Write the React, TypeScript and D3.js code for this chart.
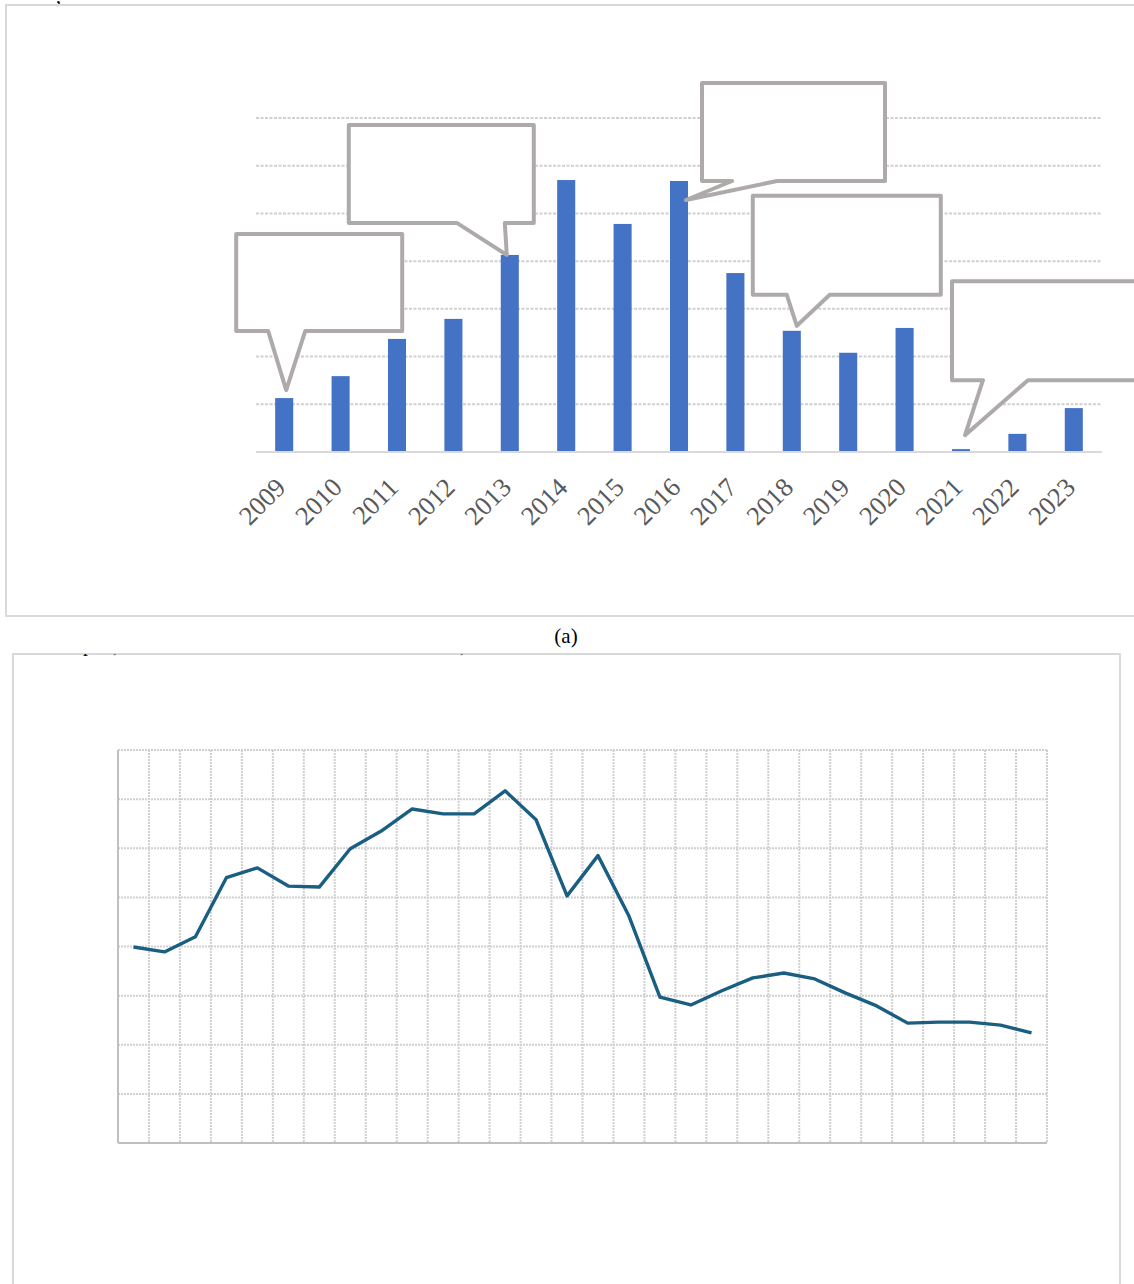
import React from "react";
import * as d3 from "d3";

// ---------- DATA ----------
const years = ["2009", "2010", "2011", "2012", "2013", "2014", "2015", "2016", "2017", "2018", "2019", "2020", "2021", "2022", "2023"];
const barValues = [11.3, 15.9, 23.7, 27.9, 41.3, 57.0, 47.8, 56.8, 37.5, 25.4, 20.8, 26.0, 0.6, 3.8, 9.2];
const barAxisMax = 70;
const calloutYears = ["2009", "2013", "2016", "2018", "2021"];

const periods = ["1", "2", "3", "4", "5", "6", "7", "8", "9", "10", "11", "12", "13", "14", "15", "16", "17", "18", "19", "20", "21", "22", "23", "24", "25", "26", "27", "28", "29", "30"];
const lineValues = [39.9, 38.9, 42.0, 54.0, 56.0, 52.3, 52.1, 59.9, 63.5, 68.0, 67.0, 67.0, 71.7, 65.8, 50.3, 58.5, 46.2, 29.7, 28.1, 31.0, 33.6, 34.6, 33.4, 30.5, 27.9, 24.4, 24.6, 24.6, 24.0, 22.4];
const lineAxisMax = 80;

const captionA = "(a)";

// ---------- LAYOUT ----------
const W = 1134;
const H = 1284;
const serif = "'Liberation Serif', 'Times New Roman', serif";

// callout shapes relative to the tip (dx, dy offsets)
const calloutLayout: Record<string, { tip: [number, number]; l: number; t: number; r: number; b: number; p1: number; p2: number }> = {
  "2009": { tip: [2, -8], l: -50, t: -156, r: 116, b: -59, p1: -18, p2: 19 },
  "2013": { tip: [-3, 0], l: -158, t: -130, r: 27, b: -32, p1: -50, p2: -2 },
  "2016": { tip: [7, 19], l: 16, t: -117, r: 199, b: -19, p1: 46, p2: 91 },
  "2018": { tip: [5, -5], l: -44, t: -130, r: 144, b: -31, p1: -10, p2: 33 },
  "2021": { tip: [4, -14], l: -13, t: -154, r: 175, b: -55, p1: 18, p2: 63 },
};

export default function App() {
  // ---- top bar chart ----
  const xTop = d3.scaleBand<string>().domain(years).range([256, 1102]).paddingInner(0.68).paddingOuter(0.34);
  const yTop = d3.scaleLinear().domain([0, barAxisMax]).range([452, 118]);
  const topGrid = yTop.ticks(7).filter((v) => v > 0);
  const bw = xTop.bandwidth();

  // ---- bottom line chart ----
  const xBot = d3.scaleBand<string>().domain(periods).range([118, 1047]).padding(0);
  const yBot = d3.scaleLinear().domain([0, lineAxisMax]).range([1143, 750]);
  const botGrid = yBot.ticks(8).filter((v) => v > 0);
  const vGrid = periods.map((p) => (xBot(p) as number) + xBot.bandwidth());
  const line = d3
    .line<number>()
    .x((_, i) => (xBot(periods[i]) as number) + xBot.bandwidth() / 2)
    .y((d) => yBot(d));

  const calloutPath = (year: string) => {
    const i = years.indexOf(year);
    const cx = (xTop(year) as number) + bw / 2;
    const cy = yTop(barValues[i]);
    const c = calloutLayout[year];
    const tx = cx + c.tip[0];
    const ty = cy + c.tip[1];
    const p = d3.path();
    p.moveTo(tx + c.l, ty + c.t);
    p.lineTo(tx + c.r, ty + c.t);
    p.lineTo(tx + c.r, ty + c.b);
    p.lineTo(tx + c.p2, ty + c.b);
    p.lineTo(tx, ty);
    p.lineTo(tx + c.p1, ty + c.b);
    p.lineTo(tx + c.l, ty + c.b);
    p.closePath();
    return p.toString();
  };

  return (
    <svg
      width={W}
      height={H}
      viewBox={`0 0 ${W} ${H}`}
      style={{ position: "absolute", left: 0, top: 0, background: "#fff" }}
    >
      <defs>
        <clipPath id="fragClip">
          <rect x={13} y={654} width={1100} height={20} />
        </clipPath>
      </defs>
      <rect x={0} y={0} width={W} height={H} fill="#fff" />

      {/* ====== TOP CHART ====== */}
      <text x={56} y={3} fontFamily={serif} fontSize={20} fill="#000">,</text>
      <rect x={6} y={5} width={1140} height={611} fill="none" stroke="#d9d9d9" strokeWidth={2} />

      {topGrid.map((v) => (
        <line key={v} x1={256} x2={1102} y1={yTop(v)} y2={yTop(v)} stroke="#d0d0d0" strokeWidth={2} strokeDasharray="3 1.5" />
      ))}
      {years.map((y, i) => (
        <rect key={y} x={xTop(y)} y={yTop(barValues[i])} width={bw} height={yTop(0) - yTop(barValues[i])} fill="#4472c4" />
      ))}
      <line x1={256} x2={1102} y1={yTop(0)} y2={yTop(0)} stroke="#d9d9d9" strokeWidth={2} />
      {years.map((y) => {
        const ax = (xTop(y) as number) + bw / 2 + 3;
        const ay = 489;
        return (
          <text
            key={y}
            x={ax}
            y={ay}
            transform={`rotate(-45 ${ax} ${ay})`}
            textAnchor="end"
            fontFamily={serif}
            fontSize={26.5}
            fill="#595959"
          >
            {y}
          </text>
        );
      })}
      {calloutYears.map((y) => (
        <path key={y} d={calloutPath(y)} fill="#fff" stroke="#aeaaaa" strokeWidth={4} strokeLinejoin="round" />
      ))}

      {/* caption */}
      <text x={566} y={643} textAnchor="middle" fontFamily={serif} fontSize={21} fill="#000">{captionA}</text>

      {/* ====== BOTTOM CHART ====== */}
      <rect x={13} y={654} width={1107} height={700} fill="#fff" stroke="#d9d9d9" strokeWidth={2} />
      <g clipPath="url(#fragClip)" fontFamily={serif} fontSize={20} fill="#000">
        <text x={83} y={651}>p</text>
        <text x={113} y={652}>,</text>
        <text x={460} y={652}>,</text>
      </g>

      {botGrid.map((v) => (
        <line key={v} x1={118} x2={1047} y1={yBot(v)} y2={yBot(v)} stroke="#d0d0d0" strokeWidth={2} strokeDasharray="2 1" />
      ))}
      {vGrid.map((x, i) => (
        <line key={i} x1={x} x2={x} y1={750} y2={1143} stroke="#d0d0d0" strokeWidth={2} strokeDasharray="2 1" />
      ))}
      <line x1={118} x2={118} y1={750} y2={1143} stroke="#bfbfbf" strokeWidth={2} />
      <line x1={118} x2={1047} y1={1143} y2={1143} stroke="#bfbfbf" strokeWidth={2} />
      <path d={line(lineValues) as string} fill="none" stroke="#1a5e82" strokeWidth={3.4} strokeLinejoin="round" />
    </svg>
  );
}
